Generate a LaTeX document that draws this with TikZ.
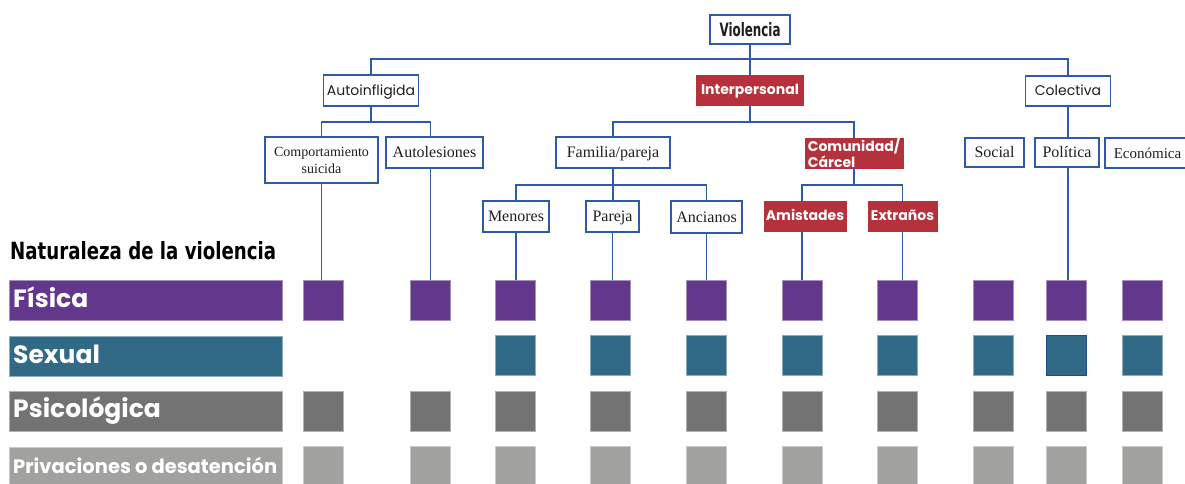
\documentclass[tikz,border=0pt]{standalone}
\usepackage{fontspec}
\usepackage{graphicx}
\setmainfont{Liberation Serif}
\newfontfamily\popf{Poppins}
\newfontfamily\condf{DejaVu Sans}
\definecolor{linec}{HTML}{2E5AA8}
\definecolor{cred}{HTML}{B5323C}
\definecolor{cpur}{HTML}{63378B}
\definecolor{cteal}{HTML}{306A87}
\definecolor{cgd}{HTML}{737373}
\definecolor{cgl}{HTML}{A1A19F}
\definecolor{txt}{HTML}{1E1E1E}
\begin{document}
\begin{tikzpicture}[x=1pt,y=-1pt,
  wbox/.style={draw=linec, line width=1.2pt, fill=white, inner sep=0pt, text=txt},
  rbox/.style={fill=cred, draw=cred, line width=0.6pt, inner sep=0pt, text=white},
  popr/.style={font=\popf\fontsize{14}{16}\selectfont, text height=9.8pt, text depth=0pt},
  popb/.style={font=\popf\bfseries\fontsize{14}{15}\selectfont, text height=9.8pt, text depth=0pt},
  serf/.style={font=\fontsize{16}{17}\selectfont, text height=10.6pt, text depth=0pt},
  conn/.style={draw=linec, line width=1.2pt},
  sq/.style={minimum size=40pt, inner sep=0pt, fill=#1, draw=#1!55!white, line width=0.8pt},
  bar/.style={minimum width=273pt, minimum height=40pt, inner sep=0pt, fill=#1, draw=#1!55!white, line width=0.8pt},
  bart/.style={anchor=base west, inner sep=0pt, text=white, font=\popf\bfseries\fontsize{#1}{#1}\selectfont}]
\useasboundingbox (0,0) rectangle (1185,484);
\clip (0,0) rectangle (1185,484);

% tree boxes
\node[wbox, minimum width=80pt, minimum height=29pt] (viol) at (750,29.5)
  {\resizebox{61pt}{14pt}{\condf\bfseries Violencia}};
\node[wbox, popr, minimum width=95pt, minimum height=31pt] (auto) at (371,90.5) {Autoinfligida};
\node[rbox, popb, minimum width=107pt, minimum height=30pt] (inter) at (750,90) {Interpersonal};
\node[wbox, popr, minimum width=85pt, minimum height=30pt] (cole) at (1068,91) {Colectiva};

\node[wbox, minimum width=113pt, minimum height=46pt, align=center,
  font=\fontsize{14}{17}\selectfont] (comp) at (321.5,160) {Comportamiento\\suicida};
\node[wbox, serf, minimum width=97pt, minimum height=31pt] (autol) at (434.5,152.5) {Autolesiones};
\node[wbox, serf, minimum width=114pt, minimum height=31pt] (fam) at (613,152.5) {Familia/pareja};
\node[rbox, minimum width=98pt, minimum height=30pt, align=left,
  font=\popf\bfseries\fontsize{14}{14}\selectfont] (comu) at (854,153) {Comunidad/\\Cárcel};
\node[wbox, serf, minimum width=59pt, minimum height=29pt] (social) at (994.5,152.5) {Social};
\node[wbox, serf, minimum width=64pt, minimum height=29pt] (poli) at (1067,152.5) {Política};
\node[wbox, serf, font=\fontsize{15}{17}\selectfont, minimum width=96pt, minimum height=30pt] (econ) at (1153,153)
  {Económica\hspace*{11pt}};

\node[wbox, serf, minimum width=66pt, minimum height=31pt] (men) at (516,216.5) {Menores};
\node[wbox, serf, minimum width=53pt, minimum height=31pt] (par) at (612.5,216.5) {Pareja};
\node[wbox, serf, minimum width=71pt, minimum height=32pt] (anc) at (706.5,217) {Ancianos};
\node[rbox, popb, minimum width=82pt, minimum height=30pt] (amis) at (805,216) {Amistades};
\node[rbox, popb, minimum width=69pt, minimum height=30pt] (extr) at (902.5,216) {Extraños};

% title
\node[anchor=base west, inner sep=0pt] (nat) at (10,259)
  {\resizebox{266pt}{18pt}{\condf\bfseries Naturaleza de la violencia}};

% left bars
\node[bar=cpur] (bfis) at (145.5,300) {};
\node[bar=cteal] (bsex) at (145.5,356.5) {};
\node[bar=cgd] (bpsi) at (145.5,411) {};
\node[bar=cgl] (bpri) at (145.5,467) {};
\node[bart=25] (tfis) at (13,307.5) {Física};
\node[bart=25] (tsex) at (13,363.5) {Sexual};
\node[bart=25] (tpsi) at (13,417.5) {Psicológica};
\node[bart=19.5] (tpri) at (13,473) {Privaciones o desatención};

% squares
\foreach \i/\x in {1/323.5,2/430.5,3/515,4/610.5,5/706.5,6/802,7/897.5,8/993.5,9/1066.5,10/1142.5}{
  \node[sq=cpur] (a\i) at (\x,300.5) {};
  \node[sq=cgd] (c\i) at (\x,411) {};
  \node[sq=cgl] (d\i) at (\x,466.5) {};
}
\foreach \i/\x in {3/515,4/610.5,5/706.5,6/802,7/897.5,8/993.5,10/1142.5}{
  \node[sq=cteal] (b\i) at (\x,355.5) {};
}
\node[sq=cteal, draw=linec!80!black, line width=1.2pt] (b9) at (1066.5,355.5) {};

% connectors
\draw[conn] (auto.north) |- (cole.north |- 0,59) -- (cole.north);
\draw[conn] (viol.south) -- (inter.north);

\draw[conn] (auto.south) -- (auto.south |- 0,122);
\draw[conn] (comp.north) |- (a2.north |- 0,122) -- (a2.north |- autol.north);
\draw[conn] (comp.south) -- (comp.south |- a1.north);
\draw[conn] (a2.north |- autol.south) -- (a2.north);

\draw[conn] (inter.south) -- (inter.south |- 0,122);
\draw[conn] (fam.north) |- (comu.north |- 0,122) -- (comu.north);

\draw[conn] (fam.south) -- (fam.south |- par.north);
\draw[conn] (men.north) |- (anc.north |- 0,185) -- (anc.north);
\draw[conn] (men.south) -- (men.south |- a3.north);
\draw[conn] (par.south) -- (par.south |- a4.north);
\draw[conn] (anc.south) -- (anc.south |- a5.north);

\draw[conn] (comu.south) -- (comu.south |- 0,185);
\draw[conn] (a6.north |- amis.north) |- (extr.north |- 0,185) -- (extr.north);
\draw[conn] (a6.north |- amis.south) -- (a6.north);
\draw[conn] (extr.south) -- (extr.south |- a7.north);

\draw[conn] (cole.south) -- (cole.south |- poli.north);
\draw[conn] (cole.south |- poli.south) -- (cole.south |- a9.north);
\end{tikzpicture}
\end{document}
